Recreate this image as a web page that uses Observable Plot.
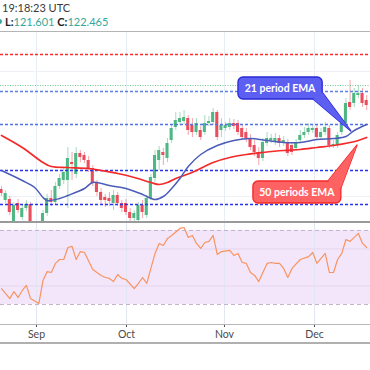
<!DOCTYPE html>
<html><head><meta charset="utf-8">
<script src="https://cdn.jsdelivr.net/npm/d3@7"></script>
<script src="https://cdn.jsdelivr.net/npm/@observablehq/plot@0.6"></script>
<style>
html,body{margin:0;padding:0;background:#fff;}
#root{position:relative;width:370px;height:370px;overflow:hidden;font-family:Lato,"Open Sans",sans-serif;}
.ln{position:absolute;left:0;width:370px;}
#h1{position:absolute;left:2px;top:1px;font-size:11px;color:#3a3a3a;}
#h2{position:absolute;left:5px;top:15px;font-size:11px;color:#222;}
#h2 b{font-weight:700;color:#222;}
#h2 .v{color:#33a99b;}
#dot{position:absolute;left:-3px;top:19px;width:5px;height:5px;border-radius:50%;background:#33a99b;}
#top{position:absolute;left:0;top:31px;}
#rsi{position:absolute;left:0;top:222px;}
</style></head>
<body><div id="root">
<div id="h1">19:18:23 UTC</div>
<div id="dot"></div>
<div id="h2"><b>L:</b><span class="v">121.601</span> <b>C:</b><span class="v">122.465</span></div>
<div id="top"></div>
<div id="rsi"></div>
<div class="ln" style="top:31px;height:1px;background:#b4b4b4"></div>
<div class="ln" style="top:221px;height:1.5px;background:#9a9a9a"></div>
<div class="ln" style="top:342px;height:1.5px;background:#b0b0b0"></div>
</div>
<script>
// ---- data ----
const open = [121.22,121.00,121.02,120.56,120.94,120.66,120.84,120.92,120.52,120.32,
 120.52,120.74,121.04,120.96,121.28,121.40,121.40,121.76,121.52,121.94,
 121.90,121.80,121.64,121.34,121.16,121.06,121.04,120.94,121.10,120.94,
 120.94,120.76,120.64,120.60,120.90,120.70,121.04,121.44,121.80,121.96,
 121.84,122.20,122.46,122.56,122.58,122.64,122.50,122.36,122.40,122.36,
 122.54,122.56,122.76,122.40,122.44,122.46,122.54,122.54,122.44,122.36,
 122.24,122.10,121.96,121.84,122.14,122.20,122.16,122.24,122.14,122.16,
 122.10,122.04,122.20,122.30,122.36,122.40,122.44,122.26,122.36,122.44,
 122.10,122.10,122.36,122.54,122.96,122.94,123.10,123.14,123.00];
const high = [121.28,121.20,121.08,120.96,121.02,120.90,121.00,120.96,120.58,120.50,
 120.80,121.12,121.20,121.36,121.52,121.64,122.06,121.96,122.06,122.00,
 121.96,121.88,121.70,121.40,121.24,121.12,121.16,121.20,121.16,121.00,
 121.02,120.84,120.80,120.96,121.00,121.10,121.52,122.00,122.08,122.04,
 122.24,122.52,122.76,122.76,122.80,122.70,122.64,122.64,122.48,122.70,
 122.68,122.84,122.80,122.64,122.56,122.64,122.62,122.60,122.52,122.44,
 122.32,122.20,122.06,122.24,122.36,122.32,122.34,122.30,122.28,122.22,
 122.16,122.22,122.40,122.46,122.54,122.52,122.52,122.44,122.56,122.50,
 122.20,122.36,122.64,123.04,123.40,123.24,123.30,123.24,123.10];
const low = [121.08,120.94,120.70,120.50,120.74,120.60,120.78,120.48,120.28,120.24,
 120.48,120.68,120.88,120.90,121.22,121.32,120.84,121.40,121.44,121.76,
 121.74,121.56,121.28,121.08,120.92,120.86,120.88,120.80,120.88,120.76,
 120.70,120.58,120.58,120.54,120.64,120.64,121.00,121.36,121.60,121.70,
 121.76,122.14,122.40,122.50,122.52,122.30,122.26,122.30,122.20,122.30,
 122.48,122.50,122.20,122.26,122.38,122.40,122.42,122.30,122.20,122.16,
 122.00,121.88,121.70,121.78,122.08,122.14,122.10,122.06,122.08,121.88,
 121.90,121.98,122.14,122.24,122.30,122.34,122.20,122.20,122.30,122.04,
 122.04,122.04,122.30,122.48,122.80,122.86,123.04,122.86,122.80];
const close = [121.14,121.14,120.76,120.90,120.80,120.84,120.92,120.56,120.36,120.44,
 120.74,121.04,120.96,121.28,121.44,121.56,121.84,121.72,121.94,121.86,
 121.80,121.64,121.34,121.16,121.00,121.00,120.98,121.10,120.94,120.84,
 120.76,120.64,120.74,120.90,120.76,121.04,121.46,121.90,122.00,121.90,
 122.14,122.44,122.60,122.64,122.66,122.40,122.36,122.54,122.26,122.54,
 122.58,122.76,122.26,122.50,122.50,122.54,122.48,122.36,122.26,122.24,
 122.06,121.96,121.84,122.16,122.24,122.24,122.24,122.14,122.20,121.94,
 121.96,122.16,122.30,122.36,122.44,122.44,122.26,122.36,122.46,122.10,
 122.12,122.30,122.54,122.94,122.86,123.14,123.14,122.94,122.90];

const ema50Idx = [0,5,10,12,16,21,24,28,32,36,38,40,42,44,47,51,55,59,63,68,72,76,80,84,86,88];
const ema50Val = [122.30,122.06,121.76,121.68,121.66,121.64,121.60,121.54,121.46,121.36,121.32,121.36,121.44,121.50,121.60,121.76,121.86,121.92,121.96,122.00,122.02,122.06,122.10,122.16,122.20,122.26];
const ema21Idx = [0,5,8,10,11,14,16,20,22,26,30,34,37,39,41,43,45,48,52,56,60,64,68,72,76,80,83,85,88];
const ema21Val = [121.60,121.40,121.26,121.06,121.00,121.04,121.10,121.24,121.36,121.30,121.24,121.12,121.02,121.08,121.24,121.44,121.68,121.92,122.10,122.20,122.24,122.20,122.16,122.16,122.22,122.24,122.28,122.40,122.52];

const levelPrices = [123.92, 123.30, 123.18, 122.52, 121.60, 120.92];
const levelColors = ["#ff2b2b", "#6cc98f", "#5a7fe6", "#5070ea", "#2433ee", "#2433ee"];
const levelDash   = ["3,2", "1,1.5", "3,2", "3,2", "3,2", "3,2"];
const levelWidth  = [1.6, 1, 1.6, 1.6, 1.6, 1.6];

const rsiIdx = [0,2,3,4,5,6,7,9,10,11,12,13,14,15,16,17,18,19,20,22,24,25,26,27,28,29,30,32,33,34,35,37,38,39,40,41,43,44,45,46,47,48,49,50,51,52,53,55,56,57,58,59,60,61,62,64,65,66,67,68,69,70,72,74,75,76,77,78,79,80,81,82,83,84,86,87,88];
const rsiVal = [38.6,33.2,37.0,33.8,37.6,40.3,33.2,30.5,43.0,47.8,47.3,52.2,54.3,54.3,60.8,61.4,54.3,58.6,58.1,48.9,45.7,44.6,44.1,42.4,46.2,44.1,43.5,38.6,41.4,44.6,41.4,57.6,63.0,61.9,65.7,67.3,71.1,71.6,66.2,67.3,63.0,60.3,63.5,64.1,67.3,57.0,58.6,59.2,56.5,57.6,52.7,52.2,47.3,45.7,42.4,52.2,52.7,52.2,52.2,49.5,44.6,49.5,54.3,55.9,58.1,52.2,54.9,57.6,47.3,47.3,54.3,57.6,65.1,64.1,68.4,63.0,60.8];

const monthTicks = [8.43, 30.12, 53.73, 75.42];
const monthLabels = ["Sep", "Oct", "Nov", "Dec"];
const topGrid = [123.58, 121.08];
const rsiBand = [30, 70];
const rsiGrid = [40, 60];

const calloutText = ["21 period EMA", "50 periods EMA"];
const calloutBox = [[57.1, 77.4, 123.46, 123.02], [60.7, 81.9, 121.38, 120.94]];
const calloutTail = [[[75.2,123.02],[77.35,123.16],[84.3,122.38]], [[78.8,121.38],[81.9,121.24],[85.8,122.10]]];
const calloutFill = ["#5d5ff2", "#ff6262"];
const calloutStroke = ["#2a2ad6", "#f22a2a"];

const xDomain = [-0.241, 88.92];
const upColor = "#4fb783", downColor = "#ec4d5c";

// ---- build ----
const candles = open.map((o, i) => ({i, o, h: high[i], l: low[i], c: close[i]}));
const ups = candles.filter(d => d.c >= d.o), downs = candles.filter(d => d.c < d.o);
const bodyTop = d => Math.abs(d.c - d.o) < 0.02 ? d.o + (d.c >= d.o ? 0.02 : -0.02) : d.c;
const ema50 = ema50Idx.map((i, k) => ({i, v: ema50Val[k]}));
const ema21 = ema21Idx.map((i, k) => ({i, v: ema21Val[k]}));
const rsi = rsiIdx.map((i, k) => ({i, v: rsiVal[k]}));

const candleMarks = (arr, color) => [
  Plot.ruleX(arr, {x: "i", y1: "l", y2: "h", stroke: color, strokeOpacity: 0.5, strokeWidth: 1, clip: true}),
  Plot.rect(arr, {x1: d => d.i - 0.37, x2: d => d.i + 0.37, y1: "o", y2: bodyTop, fill: color, clip: true})
];

const topChart = Plot.plot({
  width: 370, height: 191, margin: 0,
  style: {background: "transparent", overflow: "visible"},
  x: {domain: xDomain, axis: null},
  y: {domain: [120.56, 124.38], axis: null},
  marks: [
    Plot.ruleX(monthTicks, {stroke: "#e6edf4", strokeWidth: 1}),
    Plot.ruleY(topGrid, {stroke: "#edf1f6", strokeWidth: 1}),
    ...candleMarks(ups, upColor),
    ...candleMarks(downs, downColor),
    ...levelPrices.map((p, k) => Plot.ruleY([p], {stroke: levelColors[k], strokeDasharray: levelDash[k], strokeWidth: levelWidth[k]})),
    Plot.line(ema50, {x: "i", y: "v", stroke: "#f42a2a", strokeWidth: 1.7, curve: "catmull-rom"}),
    Plot.line(ema21, {x: "i", y: "v", stroke: "#4b5db8", strokeWidth: 1.5, curve: "catmull-rom"})
  ]
});
document.getElementById("top").appendChild(topChart);

// callouts through the chart's own scales
const sx = topChart.scale("x"), sy = topChart.scale("y");
const X = v => sx.apply(v), Y = v => sy.apply(v);
const g = d3.select(topChart).append("g");
calloutText.forEach((t, k) => {
  const [i1, i2, p1, p2] = calloutBox[k];
  const tri = calloutTail[k].map(([i, p]) => [X(i), Y(p)]);
  const triPath = "M" + tri.map(d => d.join(",")).join("L") + "Z";
  g.append("path").attr("d", triPath).attr("fill", calloutFill[k]).attr("stroke", calloutStroke[k]).attr("stroke-width", 1.3).attr("stroke-linejoin", "round");
  g.append("rect").attr("x", X(i1)).attr("y", Y(p1)).attr("width", X(i2) - X(i1)).attr("height", Y(p2) - Y(p1))
    .attr("rx", 5).attr("fill", calloutFill[k]).attr("stroke", calloutStroke[k]).attr("stroke-width", 1.3);
  g.append("path").attr("d", triPath).attr("fill", calloutFill[k]);
  g.append("text").attr("x", (X(i1) + X(i2)) / 2).attr("y", (Y(p1) + Y(p2)) / 2).attr("dy", "0.35em")
    .attr("text-anchor", "middle").attr("fill", "#fff").attr("font-weight", "bold")
    .attr("font-size", 10.5).attr("font-family", "Lato, sans-serif").text(t);
});

const rsiChart = Plot.plot({
  width: 370, height: 121, marginTop: 0, marginBottom: 19, marginLeft: 0, marginRight: 0,
  style: {background: "transparent", overflow: "visible", fontFamily: "Lato, sans-serif", fontSize: "10.5px", color: "#4a4a4a"},
  x: {domain: xDomain, ticks: monthTicks, tickFormat: d => monthLabels[monthTicks.indexOf(d)], tickSize: 3, tickPadding: 3, label: null},
  y: {domain: [19.2, 74.3], axis: null},
  marks: [
    Plot.rect([rsiBand], {x1: xDomain[0], x2: xDomain[1], y1: d => d[0], y2: d => d[1], fill: "#f3e6fb"}),
    Plot.ruleX(monthTicks, {stroke: "#e1e6f1", strokeWidth: 1}),
    Plot.ruleY(rsiGrid, {stroke: "#e3d6ee", strokeWidth: 1}),
    Plot.ruleY(rsiBand, {stroke: "#c2b3cb", strokeDasharray: "4,3", strokeWidth: 1}),
    Plot.ruleY([19.2], {stroke: "#b8b8b8", strokeWidth: 1}),
    Plot.line(rsi, {x: "i", y: "v", stroke: "#f8945f", strokeWidth: 1.2})
  ]
});
document.getElementById("rsi").appendChild(rsiChart);
</script>
</body></html>
